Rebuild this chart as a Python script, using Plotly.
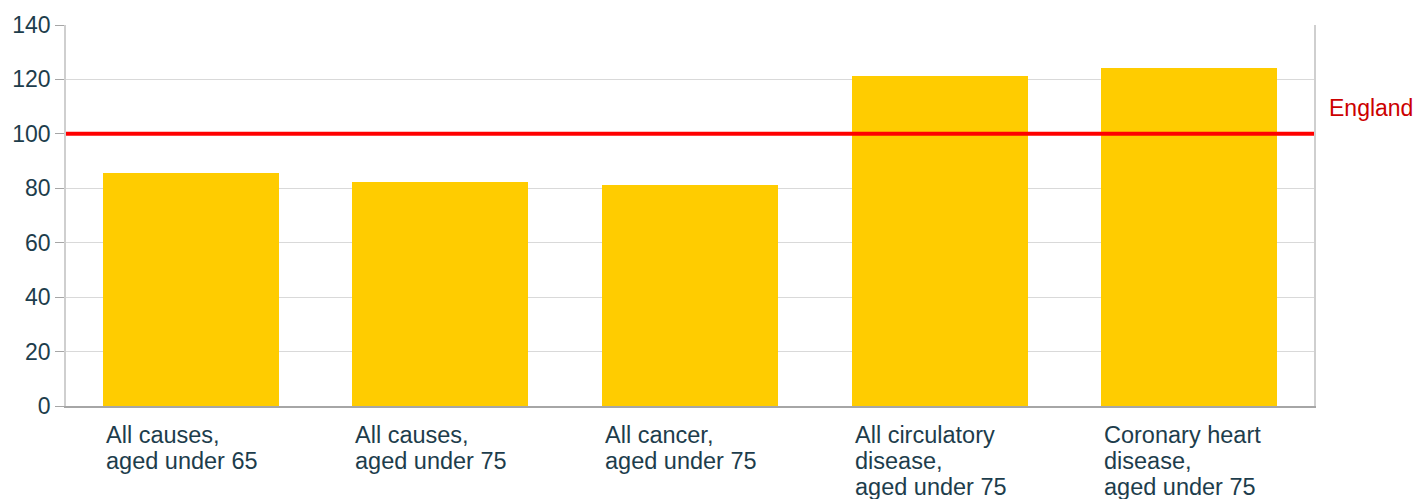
import plotly.graph_objects as go

categories = [
    "All causes,<br>aged under 65",
    "All causes,<br>aged under 75",
    "All cancer,<br>aged under 75",
    "All circulatory<br>disease,<br>aged under 75",
    "Coronary heart<br>disease,<br>aged under 75",
]
values = [85.7, 82.4, 81.3, 121.3, 124.1]
england_value = 100
england_label = "England"
y_ticks = [0, 20, 40, 60, 80, 100, 120, 140]

TEXT = "#1D3D4C"
FONT = "Liberation Sans, Arial, sans-serif"
BAR_W = 0.705

fig = go.Figure()
fig.add_trace(go.Bar(
    x=list(range(len(categories))),
    y=values,
    width=BAR_W,
    marker=dict(color="#FFCC00", line=dict(width=0)),
    hoverinfo="y",
))

fig.add_shape(type="line", xref="paper", yref="y", x0=0, x1=1,
              y0=england_value, y1=england_value,
              line=dict(color="#FF0000", width=4), layer="above")

annotations = [dict(
    xref="paper", yref="y", x=1, y=england_value, xanchor="left",
    yanchor="middle", xshift=13, yshift=26, text=england_label,
    showarrow=False, font=dict(family=FONT, size=23, color="#CC0000"))]

for i, cat in enumerate(categories):
    for k, line in enumerate(cat.split("<br>")):
        annotations.append(dict(
            xref="x", yref="paper", x=i - BAR_W / 2, y=0,
            xanchor="left", yanchor="middle", xshift=1,
            yshift=-(29 + 26 * k), text=line, showarrow=False,
            font=dict(family=FONT, size=23.5, color=TEXT)))

fig.update_layout(
    width=1418, height=499,
    margin=dict(l=65, r=104, t=22, b=93),
    paper_bgcolor="white", plot_bgcolor="white",
    showlegend=False,
    font=dict(family=FONT, size=23, color=TEXT),
    annotations=annotations,
    bargap=0,
)
fig.update_xaxes(
    range=[-0.5, len(categories) - 0.5],
    showticklabels=False, showgrid=False, zeroline=False,
    showline=True, linecolor="#A6A6A6", linewidth=1.5, ticks="",
)
fig.update_yaxes(
    range=[0, 140], tickvals=y_ticks, showgrid=True, gridcolor="#D9D9D9",
    gridwidth=1.2, zeroline=False, showline=True, linecolor="#CFCFCF",
    linewidth=1.5, mirror=True, ticks="outside", ticklen=9,
    tickcolor="#A6A6A6", tickwidth=1.2,
    tickfont=dict(family=FONT, size=23, color=TEXT),
)

fig.write_html(
    "out.html",
    config={"displayModeBar": False},
    post_script="document.body.style.margin='0';document.body.style.overflow='hidden';",
)
